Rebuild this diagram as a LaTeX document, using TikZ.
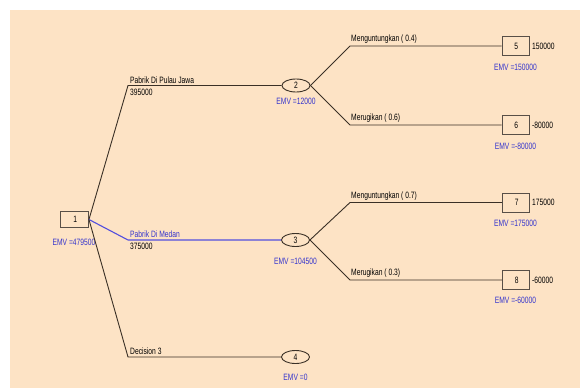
\documentclass[tikz,border=0pt]{standalone}
\usepackage{fontspec}
\setmainfont[FakeStretch=0.73]{Liberation Sans}
\usetikzlibrary{shapes.geometric}
\definecolor{paper}{RGB}{253,227,197}
\definecolor{emvblue}{RGB}{52,52,205}
\definecolor{linkblue}{RGB}{82,78,222}
\definecolor{ink}{RGB}{58,48,38}
\tikzset{
  txt/.style={font=\fontsize{9.2}{10}\selectfont, inner sep=0pt, text=black},
  emv/.style={txt, text=emvblue},
  endbox/.style={draw=ink!85, line width=0.9pt, minimum width=27pt, minimum height=19pt, inner sep=0pt, font=\fontsize{9.2}{10}\selectfont},
  chance/.style={ellipse, draw=ink, line width=0.9pt, minimum width=28pt, minimum height=13pt, inner sep=0pt, font=\fontsize{9.2}{10}\selectfont},
  branch/.style={draw=ink, line width=0.9pt},
  bluebranch/.style={draw=linkblue, line width=1.1pt},
}
\begin{document}
\begin{tikzpicture}[x=1pt, y=-1pt]
  \useasboundingbox (0,0) rectangle (580,388);
  \fill[paper] (10,10) rectangle (580,388);

  % decision node
  \node[endbox, minimum width=28pt, minimum height=16pt] (n1) at (74.5,219.5) {\,1};
  \node[emv] (e1) at (74,242) {EMV =479500};

  % chance nodes
  \node[chance] (n2) at (296,85.5) {2};
  \node[emv] (e2) at (296,101) {EMV =12000};
  \node[chance] (n3) at (295.5,240) {3};
  \node[emv] (e3) at (295.5,261) {EMV =104500};
  \node[chance] (n4) at (295.5,357) {4};
  \node[emv] (e4) at (295.5,377) {EMV =0};

  % terminal nodes
  \node[endbox] (n5) at (515.5,46) {\,5};
  \node[txt, anchor=west] (v5) at (532,46) {150000};
  \node[emv] (e5) at (515.5,67) {EMV =150000};
  \node[endbox] (n6) at (515.5,125) {\,6};
  \node[txt, anchor=west] (v6) at (532,125) {-80000};
  \node[emv] (e6) at (515.5,146) {EMV =-80000};
  \node[endbox] (n7) at (516,202.5) {\,7};
  \node[txt, anchor=west] (v7) at (532,202.5) {175000};
  \node[emv] (e7) at (515.5,223) {EMV =175000};
  \node[endbox] (n8) at (516,280) {\,8};
  \node[txt, anchor=west] (v8) at (532,280) {-60000};
  \node[emv] (e8) at (515.5,300) {EMV =-60000};

  % elbow points of the branches
  \coordinate (k2) at (128,85.5);
  \coordinate (k3) at (128,240);
  \coordinate (k4) at (128,357);
  \coordinate (k5) at (350,46);
  \coordinate (k6) at (350,125);
  \coordinate (k7) at (350,202.5);
  \coordinate (k8) at (350,280);

  % branches out of the decision node
  \draw[branch] (n1.east) -- (k2) -- (n2.west);
  \draw[bluebranch] (n1.east) -- (k3) -- (n3.west);
  \draw[branch] (n1.east) -- (k4) -- (n4.west);
  % outcome branches
  \draw[branch] (n2.east) -- (k5) -- (n5.west);
  \draw[branch] (n2.east) -- (k6) -- (n6.west);
  \draw[branch] (n3.east) -- (k7) -- (n7.west);
  \draw[branch] (n3.east) -- (k8) -- (n8.west);

  % branch labels: names above the line, values below it
  \node[txt, anchor=south west] (l2) at ([xshift=2pt,yshift=2pt]k2) {Pabrik Di Pulau Jawa};
  \node[txt, anchor=north west] (c2) at ([xshift=2pt,yshift=-3pt]k2) {395000};
  \node[txt, text=emvblue, anchor=south west] (l3) at ([xshift=2pt,yshift=2pt]k3) {Pabrik Di Medan};
  \node[txt, anchor=north west] (c3) at ([xshift=2pt,yshift=-3pt]k3) {375000};
  \node[txt, anchor=south west] (l4) at ([xshift=2pt,yshift=2pt]k4) {Decision 3};
  \node[txt, anchor=south west] (l5) at ([xshift=1pt,yshift=2pt]k5) {Menguntungkan ( 0.4)};
  \node[txt, anchor=south west] (l6) at ([xshift=1pt,yshift=2pt]k6) {Merugikan ( 0.6)};
  \node[txt, anchor=south west] (l7) at ([xshift=1pt,yshift=2pt]k7) {Menguntungkan ( 0.7)};
  \node[txt, anchor=south west] (l8) at ([xshift=1pt,yshift=2pt]k8) {Merugikan ( 0.3)};
\end{tikzpicture}
\end{document}
